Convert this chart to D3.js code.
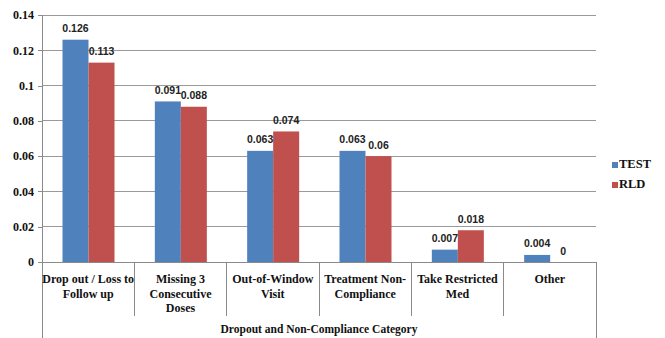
<!DOCTYPE html>
<html>
<head>
<meta charset="utf-8">
<script src="https://cdn.jsdelivr.net/npm/d3@7"></script>
<style>
  html, body { margin: 0; padding: 0; background: #fff; }
  svg { display: block; }
  .serif { font-family: "Liberation Serif", Tinos, "Times New Roman", Times, "Nimbus Roman", "Noto Serif", "DejaVu Serif", FreeSerif, serif; font-weight: bold; }
  .sans { font-family: "Liberation Sans", Arial, sans-serif; font-weight: bold; }
</style>
</head>
<body>
<svg id="chart" width="665" height="338"></svg>
<script>
// Categories (line breaks mark how each axis label wraps)
const categories = [
  "Drop out / Loss to\nFollow up",
  "Missing 3\nConsecutive\nDoses",
  "Out-of-Window\nVisit",
  "Treatment Non-\nCompliance",
  "Take Restricted\nMed",
  "Other"
];
const seriesNames = ["TEST", "RLD"];
const testValues = [0.126, 0.091, 0.063, 0.063, 0.007, 0.004];
const rldValues  = [0.113, 0.088, 0.074, 0.06, 0.018, 0];
const yTicks = [0, 0.02, 0.04, 0.06, 0.08, 0.1, 0.12, 0.14];
const yTickLabels = ["0", "0.02", "0.04", "0.06", "0.08", "0.1", "0.12", "0.14"];
const xAxisTitle = "Dropout and Non-Compliance Category";

const colors = { TEST: "#4F81BD", RLD: "#C0504D" };

const svg = d3.select("#chart");
const plotLeft = 42, plotRight = 596, plotTop = 15, plotBottom = 262;

const x0 = d3.scaleBand().domain(categories).range([plotLeft, plotRight]).paddingInner(0).paddingOuter(0);
const x1 = d3.scaleBand().domain(seriesNames).range([20.5, 72.5]);
const y = d3.scaleLinear().domain([0, 0.14]).range([plotBottom, plotTop]);

const rows = categories.map((c, i) => ({ cat: c, TEST: testValues[i], RLD: rldValues[i] }));

// Horizontal gridlines
svg.append("g")
  .selectAll("line")
  .data(yTicks.filter(t => t > 0))
  .join("line")
  .attr("x1", plotLeft).attr("x2", plotRight)
  .attr("y1", d => y(d)).attr("y2", d => y(d))
  .attr("stroke", "#9a9a9a").attr("stroke-width", 1)
  .attr("shape-rendering", "crispEdges");

// Y axis
const yAxis = d3.axisLeft(y)
  .tickValues(yTicks)
  .tickFormat((d, i) => yTickLabels[i])
  .tickSize(4)
  .tickPadding(4);
const gy = svg.append("g").attr("transform", `translate(${plotLeft},0)`).call(yAxis);
gy.attr("font-family", null).attr("font-size", null);
gy.select(".domain").remove();
gy.selectAll(".tick line").attr("stroke", "#8a8a8a").attr("shape-rendering", "crispEdges");
gy.selectAll(".tick text")
  .attr("class", "serif")
  .style("font-size", "12px")
  .attr("fill", "#111");

// Vertical axis line continuing down through the category label area
svg.append("line")
  .attr("x1", plotLeft).attr("x2", plotLeft).attr("y1", plotTop).attr("y2", 338)
  .attr("stroke", "#8a8a8a").attr("shape-rendering", "crispEdges");
svg.append("line")
  .attr("x1", plotRight).attr("x2", plotRight).attr("y1", plotBottom).attr("y2", 338)
  .attr("stroke", "#8a8a8a").attr("shape-rendering", "crispEdges");

// X axis baseline
svg.append("line")
  .attr("x1", plotLeft).attr("x2", plotRight).attr("y1", plotBottom).attr("y2", plotBottom)
  .attr("stroke", "#8a8a8a").attr("shape-rendering", "crispEdges");

// Category separators
svg.append("g")
  .selectAll("line")
  .data(categories.slice(1))
  .join("line")
  .attr("x1", d => x0(d)).attr("x2", d => x0(d))
  .attr("y1", plotBottom).attr("y2", 316)
  .attr("stroke", "#8a8a8a").attr("shape-rendering", "crispEdges");

// Bars
const groups = svg.append("g")
  .selectAll("g")
  .data(rows)
  .join("g")
  .attr("transform", d => `translate(${x0(d.cat)},0)`);

groups.selectAll("rect")
  .data(d => seriesNames.map(s => ({ s, v: d[s] })))
  .join("rect")
  .attr("x", d => x1(d.s))
  .attr("width", x1.bandwidth())
  .attr("y", d => y(d.v))
  .attr("height", d => plotBottom - y(d.v))
  .attr("fill", d => colors[d.s]);

// Value labels
groups.selectAll("text")
  .data(d => seriesNames.map(s => ({ s, v: d[s] })))
  .join("text")
  .attr("class", "sans")
  .attr("x", d => x1(d.s) + x1.bandwidth() / 2)
  .attr("y", d => y(d.v) - 7.5)
  .attr("text-anchor", "middle")
  .style("font-size", "10.5px")
  .attr("fill", "#222")
  .text(d => String(d.v));

// Category labels
svg.append("g")
  .selectAll("text")
  .data(categories)
  .join("text")
  .attr("class", "serif")
  .attr("x", d => x0(d) + x0.bandwidth() / 2)
  .attr("y", 283)
  .attr("text-anchor", "middle")
  .style("font-size", "12px")
  .attr("fill", "#111")
  .each(function (d) {
    const t = d3.select(this);
    d.split("\n").forEach((line, i) => {
      t.append("tspan")
        .attr("x", x0(d) + x0.bandwidth() / 2)
        .attr("dy", i === 0 ? 0 : 14.5)
        .text(line);
    });
  });

// Axis title
svg.append("text")
  .attr("class", "serif")
  .attr("x", (plotLeft + plotRight) / 2)
  .attr("y", 333)
  .attr("text-anchor", "middle")
  .style("font-size", "11.5px")
  .attr("fill", "#111")
  .text(xAxisTitle);

// Legend
const legend = svg.append("g")
  .selectAll("g")
  .data(seriesNames)
  .join("g")
  .attr("transform", (d, i) => `translate(612,${162 + i * 20})`);
legend.append("rect")
  .attr("width", 6).attr("height", 6)
  .attr("fill", d => colors[d]);
legend.append("text")
  .attr("class", "serif")
  .attr("x", 7).attr("y", 6)
  .style("font-size", "12.5px")
  .attr("fill", "#111")
  .text(d => d);
</script>
</body>
</html>
